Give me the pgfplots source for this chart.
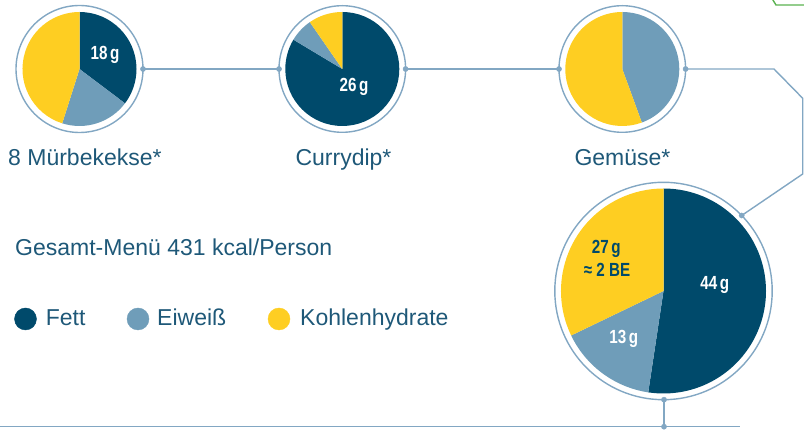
\documentclass[border=0pt]{standalone}
\usepackage{fontspec}
\setmainfont{Liberation Sans}
\usepackage{graphicx}
\usepackage{pgfplots}
\pgfplotsset{compat=1.18}
\usepackage{pgfplotstable}

\definecolor{fett}{HTML}{004A6B}
\definecolor{eiweiss}{HTML}{6F9DB9}
\definecolor{kh}{HTML}{FECE22}
\definecolor{ring}{HTML}{82A7C3}
\definecolor{txt}{HTML}{1E5878}
\definecolor{grn}{HTML}{5AB250}

% grams per component
\pgfplotstableread{
g col
18 fett
10 eiweiss
23 kh
}\tabMuerbe
\pgfplotstableread{
g col
26 fett
2.1 eiweiss
3.0 kh
}\tabCurry
\pgfplotstableread{
g col
0.8 eiweiss
1.0 kh
}\tabGemuese
\pgfplotstableread{
g col
44 fett
13 eiweiss
27 kh
}\tabGesamt

\newcommand\drawpie[4]{%
  \pgfplotstablegetrowsof{#4}\pgfmathtruncatemacro\pieLast{\pgfplotsretval-1}%
  \def\pieTot{0}%
  \pgfplotsforeachungrouped \pieI in {0,...,\pieLast}{%
    \pgfplotstablegetelem{\pieI}{g}\of{#4}%
    \pgfmathsetmacro\pieTot{\pieTot+\pgfplotsretval}}%
  \def\pieCum{0}%
  \pgfplotsforeachungrouped \pieI in {0,...,\pieLast}{%
    \pgfplotstablegetelem{\pieI}{g}\of{#4}\let\pieV\pgfplotsretval
    \pgfplotstablegetelem{\pieI}{col}\of{#4}\let\pieC\pgfplotsretval
    \pgfmathsetmacro\pieA{90-360*(\pieCum/\pieTot)}%
    \pgfmathsetmacro\pieB{90-360*((\pieCum+\pieV)/\pieTot)}%
    \edef\pieTmp{\noexpand\fill[\pieC] (axis cs:#1,#2) -- ([shift={(\pieA:#3pt)}]axis cs:#1,#2) arc[start angle=\pieA, end angle=\pieB, radius=#3pt] -- cycle;}%
    \pieTmp
    \pgfmathsetmacro\pieCum{\pieCum+\pieV}%
  }}

\newcommand\lbl[1]{\scalebox{0.8}[1]{\fontsize{19}{20}\selectfont\bfseries #1}}

\begin{document}
\begin{tikzpicture}
\begin{axis}[x=1pt, y=1pt, xmin=0, xmax=804, ymin=0, ymax=431,
  hide axis, clip=false]
% connectors
\addplot[ring, line width=1.4pt, no marks] coordinates {(143,362) (279,362)};
\addplot[ring, line width=1.4pt, no marks] coordinates {(405.6,362) (559,362)};
\addplot[ring, line width=1.4pt, no marks] coordinates {(685.6,362) (774,362) (802.7,332.7) (802.7,257) (741.7,215.5)};
\addplot[ring, line width=1.4pt, no marks] coordinates {(664,31.3) (664,4.3)};
\addplot[ring, line width=1.4pt, no marks] coordinates {(0,4.3) (740,4.3)};
\addplot[grn, line width=1.4pt, no marks] coordinates {(771.7,433) (776,426) (806,426)};
% pies
\drawpie{79.5}{362}{57}{\tabMuerbe}
\drawpie{342.3}{362}{57}{\tabCurry}
\drawpie{622.3}{362}{57}{\tabGemuese}
\drawpie{663.5}{140}{102.5}{\tabGesamt}
% rings
\draw[ring, line width=1.4pt] (axis cs:79.5,362) circle[radius=63.5pt];
\draw[ring, line width=1.4pt] (axis cs:342.3,362) circle[radius=63.3pt];
\draw[ring, line width=1.4pt] (axis cs:622.3,362) circle[radius=63.3pt];
\draw[ring, line width=1.4pt] (axis cs:663.5,140) circle[radius=108.7pt];
% dots
\addplot[only marks, mark=*, mark size=2.6, color=ring] coordinates {(143,362) (279,362) (405.6,362) (559,362) (685.6,362) (741.7,215.5) (664,31.3) (664,4.3)};
% legend markers
\addplot[only marks, mark=*, mark size=11, color=fett] coordinates {(25.5,112)};
\addplot[only marks, mark=*, mark size=11, color=eiweiss] coordinates {(138,112)};
\addplot[only marks, mark=*, mark size=11, color=kh] coordinates {(279,112)};
% texts
\node[anchor=base west, inner sep=0, text=txt, font=\fontsize{23}{27}\selectfont] at (axis cs:8,265.5) {8 Mürbekekse*};
\node[anchor=base, inner sep=0, text=txt, font=\fontsize{23}{27}\selectfont] at (axis cs:343.5,265.5) {Currydip*};
\node[anchor=base, inner sep=0, text=txt, font=\fontsize{23}{27}\selectfont] at (axis cs:622.5,265.5) {Gemüse*};
\node[anchor=base west, inner sep=0, text=txt, font=\fontsize{23}{27}\selectfont] at (axis cs:15,175.3) {Gesamt-Menü 431 kcal/Person};
\node[anchor=base west, inner sep=0, text=txt, font=\fontsize{23}{27}\selectfont] at (axis cs:45.7,105) {Fett};
\node[anchor=base west, inner sep=0, text=txt, font=\fontsize{23}{27}\selectfont] at (axis cs:157,105) {Eiweiß};
\node[anchor=base west, inner sep=0, text=txt, font=\fontsize{23}{27}\selectfont] at (axis cs:300,105) {Kohlenhydrate};
% pie labels
\node[anchor=base, inner sep=0, text=white] at (axis cs:105,371) {\lbl{18\,g}};
\node[anchor=base, inner sep=0, text=white] at (axis cs:354,339.3) {\lbl{26\,g}};
\node[anchor=base, inner sep=0, text=white] at (axis cs:714.7,141.7) {\lbl{44\,g}};
\node[anchor=base, inner sep=0, text=white] at (axis cs:623.7,87.7) {\lbl{13\,g}};
\node[anchor=base, inner sep=0, text=fett] at (axis cs:606.3,177) {\lbl{27\,g}};
\node[anchor=base, inner sep=0, text=fett] at (axis cs:607,154.3) {\lbl{≈ 2 BE}};
\end{axis}
\pgfresetboundingbox
\path[use as bounding box] (current axis.south west) rectangle (current axis.north east);
\end{tikzpicture}
\end{document}
